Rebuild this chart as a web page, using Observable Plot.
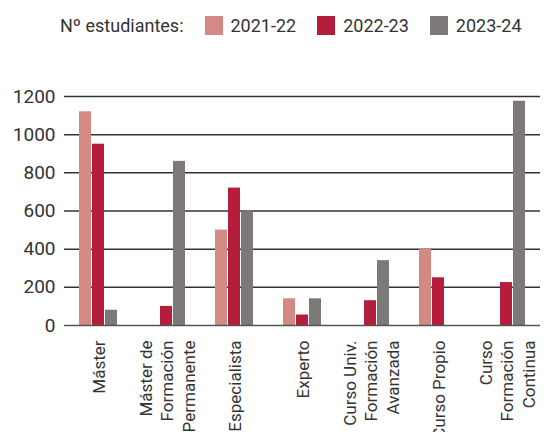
<!DOCTYPE html>
<html>
<head>
<meta charset="utf-8">
<script src="https://cdn.jsdelivr.net/npm/d3@7"></script>
<script src="https://cdn.jsdelivr.net/npm/@observablehq/plot@0.6"></script>
<style>
  body { margin: 0; background: #fff; font-family: Roboto, sans-serif; color: #333; }
  #legend { height: 50px; display: flex; align-items: center; padding-left: 60px; font-size: 18px; }
  #legend .sw { width: 18px; height: 19px; display: inline-block; margin-right: 8px; }
  #legend .item { display: flex; align-items: center; margin-left: 21px; }
  svg { display: block; }
</style>
</head>
<body>
<div id="legend"></div>
<div id="chart"></div>
<script>
const categories = ["Máster", "Máster de Formación Permanente", "Especialista", "Experto", "Curso Univ. Formación Avanzada", "Curso Propio", "Curso Formación Continua"];
const tickLabels = ["Máster", "Máster de\nFormación\nPermanente", "Especialista", "Experto", "Curso Univ.\nFormación\nAvanzada", "Curso Propio", "Curso\nFormación\nContinua"];
const series = ["2021-22", "2022-23", "2023-24"];
const colors = ["#d48a84", "#b41e3c", "#7e7878"];
const values2021 = [1120, null, 500, 140, null, 400, null];
const values2022 = [950, 100, 720, 55, 130, 250, 225];
const values2023 = [80, 860, 600, 140, 340, null, 1175];
const yTicks = [0, 200, 400, 600, 800, 1000, 1200];
const legendTitle = "Nº estudiantes:";

const seriesValues = [values2021, values2022, values2023];
const table = [];
categories.forEach((c, i) => {
  series.forEach((s, j) => {
    const v = seriesValues[j][i];
    if (v != null) table.push({cat: c, serie: s, value: v});
  });
});

// legend
const legend = document.getElementById("legend");
const t = document.createElement("span");
t.textContent = legendTitle;
legend.appendChild(t);
series.forEach((s, j) => {
  const item = document.createElement("span");
  item.className = "item";
  const sw = document.createElement("span");
  sw.className = "sw";
  sw.style.background = colors[j];
  const lab = document.createElement("span");
  lab.textContent = s;
  item.appendChild(sw);
  item.appendChild(lab);
  legend.appendChild(item);
});

const chart = Plot.plot({
  width: 544,
  height: 382,
  marginTop: 46,
  marginBottom: 107,
  marginLeft: 62,
  marginRight: 3,
  style: {fontFamily: "Roboto, sans-serif", fontSize: "19px", color: "#333", background: "#fff"},
  fx: {domain: categories, padding: 0, axis: null},
  x: {domain: series, axis: null, paddingInner: 0.07, paddingOuter: 0.98},
  y: {domain: [0, 1200], ticks: yTicks, tickSize: 0, tickPadding: 9, label: null, tickFormat: d => String(d)},
  color: {domain: series, range: colors},
  marks: [
    Plot.ruleY(yTicks.filter(d => d > 0), {stroke: "#333", strokeWidth: 1.5}),
    Plot.barY(table, {fx: "cat", x: "serie", y: "value", fill: "serie"}),
    Plot.ruleY([0], {stroke: "#555", strokeWidth: 1.5}),
    Plot.text(categories, {
      fx: d => d,
      text: (d, i) => tickLabels[i],
      frameAnchor: "bottom",
      rotate: -90,
      textAnchor: "end",
      lineAnchor: "middle",
      lineHeight: 1.26,
      dy: 15,
      fontSize: 17,
      fill: "#333"
    })
  ]
});
document.getElementById("chart").appendChild(chart);
</script>
</body>
</html>
